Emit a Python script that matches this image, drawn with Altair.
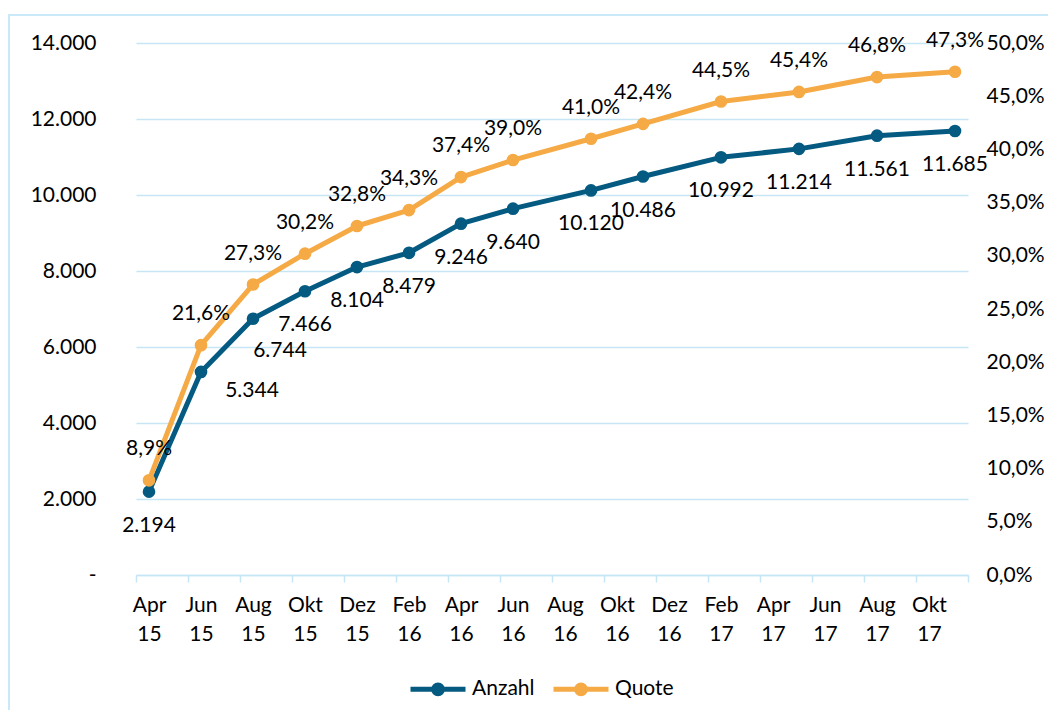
import json
import pandas as pd
import altair as alt

# ---------------- data ----------------
dates = ["2015-04", "2015-06", "2015-08", "2015-10", "2015-12", "2016-02", "2016-04",
         "2016-06", "2016-09", "2016-11", "2017-02", "2017-05", "2017-08", "2017-11"]
anzahl = [2194, 5344, 6744, 7466, 8104, 8479, 9246, 9640, 10120, 10486, 10992, 11214, 11561, 11685]
quote = [8.9, 21.6, 27.3, 30.2, 32.8, 34.3, 37.4, 39.0, 41.0, 42.4, 44.5, 45.4, 46.8, 47.3]
tick_labels = ["Apr 15", "Jun 15", "Aug 15", "Okt 15", "Dez 15", "Feb 16", "Apr 16", "Jun 16",
               "Aug 16", "Okt 16", "Dez 16", "Feb 17", "Apr 17", "Jun 17", "Aug 17", "Okt 17"]
series = ["Anzahl", "Quote"]

# ---------------- styling ----------------
BLUE = "#045A80"
ORANGE = "#F5AA45"
GRID = "#C6E6F6"
FRAME = "#C9E9F8"
FONT = "Lato"
FS = 21

def month_index(d):
    y, m = map(int, d.split("-"))
    return (y - 2015) * 12 + (m - 4)

df = pd.DataFrame({
    "pos": list(range(len(dates))),
    "idx": [month_index(d) for d in dates],
    "anzahl": anzahl,
    "quote": [q / 100 for q in quote],
    "a_lbl": [f"{v:,}".replace(",", ".") for v in anzahl],
    "q_lbl": [f"{q:.1f}%".replace(".", ",") for q in quote],
})

labels_js = json.dumps(tick_labels + [""])
x_enc = alt.X(
    "idx:Q",
    scale=alt.Scale(domain=[-0.5, 31.5], nice=False, zero=False),
    axis=alt.Axis(
        values=[-0.5 + 2 * k for k in range(17)],
        labelExpr=f"split({labels_js}[round((datum.value + 0.5) / 2)], ' ')",
        labelOffset=13, labelFlush=False, labelOverlap=False, labelBound=False,
        grid=False, tickSize=7, tickColor=GRID, tickWidth=1.5,
        domainColor=GRID, domainWidth=1.5, labelPadding=12, labelLineHeight=29,
        labelBaseline="top", labelFont=FONT, labelFontSize=FS, labelColor="black",
        title=None,
    ),
)

y_left = alt.Y(
    "anzahl:Q",
    scale=alt.Scale(domain=[0, 14000], nice=False),
    axis=alt.Axis(
        values=list(range(0, 14001, 2000)), orient="left",
        labelExpr="datum.value == 0 ? '-\u00a0\u00a0' : replace(format(datum.value, ','), ',', '.')",
        grid=True, gridColor=GRID, gridWidth=1.5, domain=False, ticks=False,
        labelPadding=40, labelFont=FONT, labelFontSize=FS, labelColor="black", title=None,
    ),
)

y_right = alt.Y(
    "quote:Q",
    scale=alt.Scale(domain=[0, 0.5], nice=False),
    axis=alt.Axis(
        values=[k * 0.05 for k in range(11)], orient="right",
        labelExpr="replace(format(datum.value, '.1%'), '.', ',')",
        grid=False, domain=False, ticks=False,
        labelPadding=18, labelFont=FONT, labelFontSize=FS, labelColor="black", title=None,
    ),
)

LEGEND_PATH = ("M-1,0H1"
               "M-0.16,0A0.16,0.16 0 1,1 0.16,0A0.16,0.16 0 1,1 -0.16,0"
               "M-0.06,0A0.06,0.06 0 1,1 0.06,0A0.06,0.06 0 1,1 -0.06,0")

color_enc = alt.Color(
    "series:N",
    scale=alt.Scale(domain=series, range=[BLUE, ORANGE]),
    legend=alt.Legend(
        title=None, orient="none", legendX=272, legendY=616, direction="horizontal",
        symbolType=LEGEND_PATH, symbolSize=3025, symbolStrokeWidth=5,
        labelFont=FONT, labelFontSize=FS, labelColor="black", labelOffset=4,
        columnPadding=8,
    ),
)

base = alt.Chart(df)

frame = alt.Chart(pd.DataFrame({"f": [0]})).mark_rect(
    fillOpacity=0, stroke=FRAME, strokeWidth=2
).encode(x=alt.value(-127), x2=alt.value(1000), y=alt.value(-28), y2=alt.value(700))

a_line = base.transform_calculate(series="'Anzahl'").mark_line(
    strokeWidth=5, strokeCap="round", strokeJoin="round"
).encode(x=x_enc, y=y_left, color=color_enc)
a_pts = base.mark_circle(size=160, opacity=1, color=BLUE).encode(x=x_enc, y=y_left)

anzahl_label_shift = {1: (51, 19), 2: (27, 32)}
a_txt = [
    base.transform_filter(~alt.FieldOneOfPredicate(field="pos", oneOf=list(anzahl_label_shift)))
    .mark_text(dy=34, font=FONT, fontSize=FS, color="black", baseline="middle", align="center")
    .encode(x=x_enc, y=y_left, text="a_lbl:N")
]
for p, (dx, dy) in anzahl_label_shift.items():
    a_txt.append(
        base.transform_filter(alt.datum.pos == p)
        .mark_text(dx=dx, dy=dy, font=FONT, fontSize=FS, color="black", baseline="middle", align="center")
        .encode(x=x_enc, y=y_left, text="a_lbl:N")
    )

q_line = base.transform_calculate(series="'Quote'").mark_line(
    strokeWidth=5, strokeCap="round", strokeJoin="round"
).encode(x=x_enc, y=y_right, color=color_enc)
q_pts = base.mark_circle(size=160, opacity=1, color=ORANGE).encode(x=x_enc, y=y_right)
q_txt = base.mark_text(dy=-31, font=FONT, fontSize=FS, color="black",
                       baseline="middle", align="center").encode(x=x_enc, y=y_right, text="q_lbl:N")

left = alt.layer(frame, a_line, a_pts, *a_txt)
right = alt.layer(q_line, q_pts, q_txt)

chart = alt.layer(left, right).resolve_scale(y="independent").properties(
    width=832, height=532,
    padding={"left": 128, "top": 35, "right": 80, "bottom": 135},
    autosize=alt.AutoSizeParams(type="none"),
    background="white",
).configure_view(stroke=None)

chart.save("out.html", embed_options={"renderer": "svg", "actions": False})
